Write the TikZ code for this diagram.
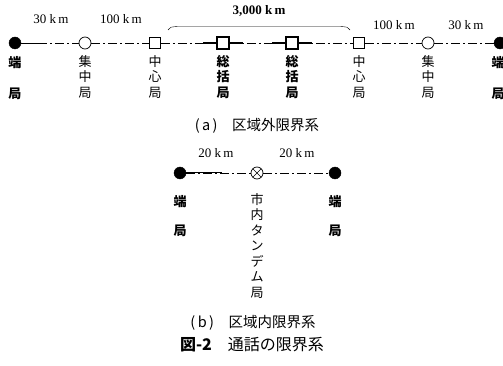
\documentclass[tikz,border=0pt]{standalone}
\usepackage{fontspec}
\newfontfamily\cjk{Noto Sans CJK JP}
\setmainfont{Liberation Serif}
\begin{document}
\begin{tikzpicture}[x=1pt,y=-1pt,
  filled/.style={circle,fill=black,draw=black,inner sep=0pt,minimum size=12pt},
  opencirc/.style={circle,draw=black,line width=0.7pt,inner sep=0pt,minimum size=12pt},
  sq/.style={rectangle,draw=black,line width=0.6pt,inner sep=0pt,minimum size=11pt,fill=white},
  bsq/.style={rectangle,draw=black,line width=1.6pt,inner sep=0pt,minimum size=12pt,fill=white},
  tandem/.style={circle,draw=black,line width=0.7pt,inner sep=0pt,minimum size=12pt,path picture={
     \draw[line width=0.7pt] (path picture bounding box.north west)--(path picture bounding box.south east)
        (path picture bounding box.north east)--(path picture bounding box.south west);}},
  conn/.style={line width=0.45pt,dash pattern=on 9pt off 3pt on 2pt off 3pt},
  stub/.style={line width=1.1pt},
  vlab/.style={anchor=north,align=center,inner sep=0pt,font=\cjk\fontsize{13}{15.5}\selectfont},
  km/.style={inner sep=0pt,font=\fontsize{13}{15}\selectfont},
  captxt/.style={inner sep=0pt,font=\cjk\fontsize{14.5}{16}\selectfont}]
\useasboundingbox (0,0) rectangle (503,366);
% (a)
\node[filled] (a1) at (15,43) {};
\node[opencirc] (a2) at (85,43) {};
\node[sq] (a3) at (155,43) {};
\node[bsq] (a4) at (223,43) {};
\node[bsq] (a5) at (292,43) {};
\node[sq] (a6) at (359,43) {};
\node[opencirc] (a7) at (428,43) {};
\node[filled] (a8) at (500,43) {};
\draw[conn] (a1) -- (a2);
\draw[conn] (a2) -- (a3);
\draw[conn] (a3) -- (a4);
\draw[conn] (a4) -- (a5);
\draw[conn] (a5) -- (a6);
\draw[conn] (a6) -- (a7);
\draw[conn] (a7) -- (a8);
\coordinate (s1a) at (28,43); \coordinate (s1b) at (42,43);
\draw[line width=0.6pt] (s1a) -- (s1b);
\coordinate (s2a) at (203,43); \coordinate (s3b) at (243,43);
\draw[stub] (s2a) -- (a4.west); \draw[stub] (a4.east) -- (s3b);
\coordinate (s4a) at (272,43); \coordinate (s5b) at (312,43);
\draw[stub] (s4a) -- (a5.west); \draw[stub] (a5.east) -- (s5b);
\coordinate (b1) at (168,30); \coordinate (b2) at (350,30);
\draw[line width=0.4pt] (b1) .. controls (170,27) .. (178,26.5) -- (340,26.5) .. controls (348,27) .. (b2);
\node[km] (k1) at (51,19) {30 k\,m};
\node[km] (k2) at (121,19) {100 k\,m};
\node[km,font=\bfseries\fontsize{13}{15}\selectfont] (k3) at (259,11) {3,000 k\,m};
\node[km] (k4) at (394,25) {100 k\,m};
\node[km] (k5) at (466,25) {30 k\,m};
\node[vlab,font=\cjk\fontsize{13}{31}\selectfont\bfseries] (l1) at (15,56) {端\\局};
\node[vlab] (l2) at (85,55) {集\\中\\局};
\node[vlab] (l3) at (155,55) {中\\心\\局};
\node[vlab,font=\cjk\fontsize{13}{15.5}\selectfont\bfseries] (l4) at (223,55) {総\\括\\局};
\node[vlab,font=\cjk\fontsize{13}{15.5}\selectfont\bfseries] (l5) at (292,55) {総\\括\\局};
\node[vlab] (l6) at (359,55) {中\\心\\局};
\node[vlab] (l7) at (428,55) {集\\中\\局};
\node[vlab,font=\cjk\fontsize{13}{31}\selectfont\bfseries] (l8) at (498,56) {端\\局};
\node[captxt] (ca) at (257,126) {(\,a\,)\quad 区域外限界系};
% (b)
\node[filled] (t1) at (180,173) {};
\node[tandem] (t2) at (257,173) {};
\node[filled] (t3) at (335,173) {};
\draw[conn] (t1) -- (t2);
\draw[conn] (t2) -- (t3);
\coordinate (u1) at (222,173);
\draw[line width=1pt] (t1.east) -- (u1);
\node[km] (k6) at (216,153) {20 k\,m};
\node[km] (k7) at (297,153) {20 k\,m};
\node[vlab,font=\cjk\fontsize{13}{29}\selectfont\bfseries] (m1) at (180,195) {端\\局};
\node[vlab] (m2) at (257,193) {市\\内\\タ\\ン\\デ\\ム\\局};
\node[vlab,font=\cjk\fontsize{13}{29}\selectfont\bfseries] (m3) at (335,195) {端\\局};
\node[captxt] (cb) at (253,323) {(\,b\,)\quad 区域内限界系};
\node[captxt,font=\cjk\fontsize{16}{18}\selectfont] (cf) at (252,345) {\textbf{図-2}\quad 通話の限界系};
\end{tikzpicture}
\end{document}
